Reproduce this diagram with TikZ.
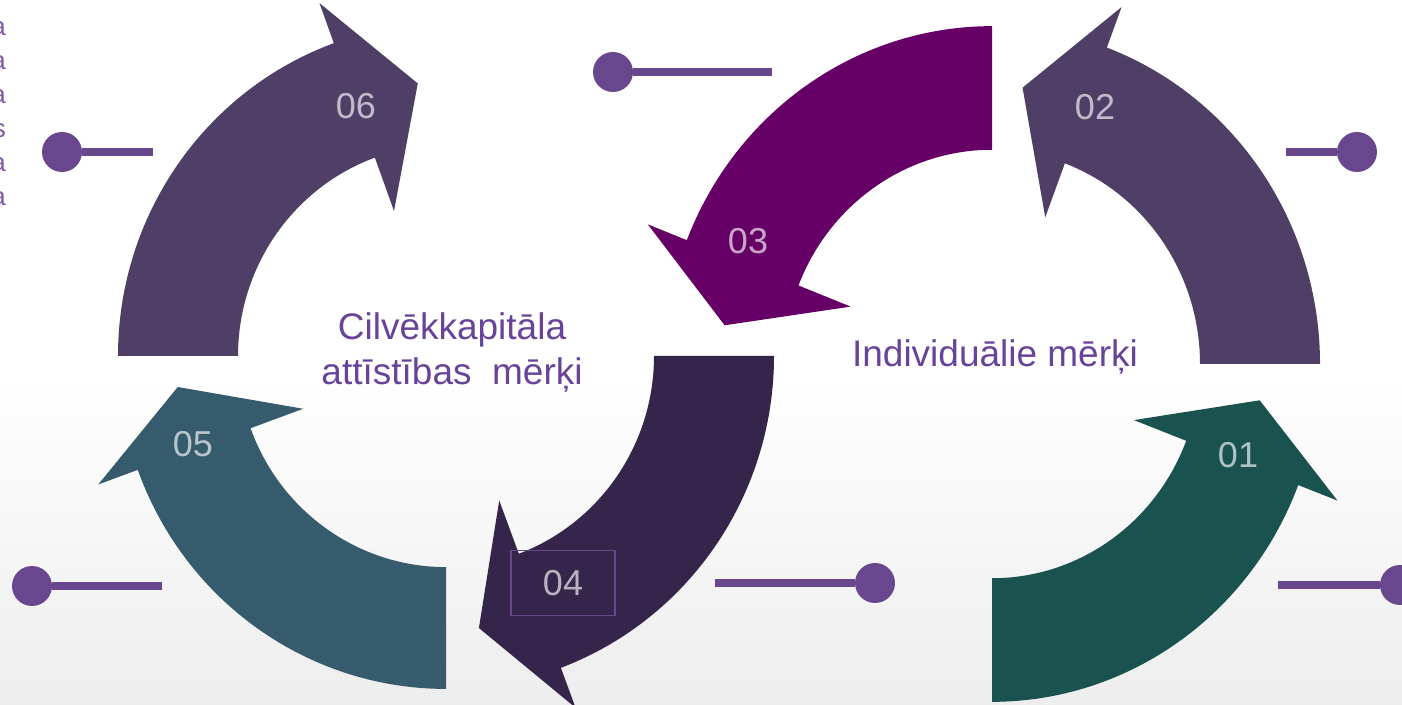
\documentclass[tikz,border=0pt]{standalone}
\usepackage{fontspec}
\setmainfont{Liberation Sans}
\definecolor{tealgreen}{RGB}{25,82,78}
\definecolor{greyplum}{RGB}{79,63,102}
\definecolor{plum}{RGB}{102,0,102}
\definecolor{nightplum}{RGB}{54,37,74}
\definecolor{slateteal}{RGB}{54,91,109}
\definecolor{pinpurple}{RGB}{104,71,143}
\definecolor{textpurple}{RGB}{103,67,154}
\definecolor{edgepurple}{RGB}{125,91,166}

% bent arrow: centre x, centre y, y stretch, start angle, head base angle, tip angle, colour
\newcommand{\cyclearrow}[7]{
  \begin{scope}[shift={(#1,#2)}, yscale=#3]
    \fill[#7] (#4:328) arc[start angle=#4, end angle=#5, radius=328]
      -- (#5:370) -- (#6:270) -- (#5:152) -- (#5:208)
      arc[start angle=#5, end angle=#4, radius=208] -- cycle;
  \end{scope}
}

\begin{document}
\begin{tikzpicture}[x=1pt, y=1pt,
  num/.style={text=white, text opacity=0.65, font=\fontsize{36}{36}\selectfont},
  goal/.style={text=textpurple, font=\fontsize{37}{45}\selectfont, align=center},
  pin/.style={circle, fill=pinpurple, minimum size=40pt, inner sep=0pt},
  stem/.style={draw=pinpurple, line width=8pt}]

\useasboundingbox (0,0) rectangle (1402,704);
\clip (0,0) rectangle (1402,704);

% background
\fill[white] (0,0) rectangle (1402,704);
\fill[top color=white, bottom color=black!7] (0,0) rectangle (1402,330);

% right loop
\cyclearrow{992}{340}{1.03}{-90}{-21}{-7.5}{tealgreen}
\cyclearrow{992}{340}{1.03}{0}{69.5}{83.5}{greyplum}
\cyclearrow{992}{340}{1.03}{90}{158.5}{172}{plum}

% left loop
\cyclearrow{446}{348}{1.015}{0}{-69.5}{-83}{nightplum}
\cyclearrow{446}{348}{1.015}{-90}{-160}{-173.5}{slateteal}
\cyclearrow{446}{348}{1.015}{180}{110}{96}{greyplum}

\node[num] (n01) at (1238,249) {01};
\node[num] (n02) at (1095,597) {02};
\node[num] (n03) at (748,463) {03};
\node[num, draw=pinpurple, line width=1.5pt, minimum width=104pt, minimum height=65pt] (n04) at (563,121) {04};
\node[num] (n05) at (193,260) {05};
\node[num] (n06) at (356,598) {06};

\node[goal] (humancap) at (452,351) {Cilvēkkapitāla\\attīstības~ mērķi};
\node[goal] (personal) at (995,347) {Individuālie mērķi};

% pins
\node[pin] (pinA) at (613,632) {};
\coordinate (stemA) at (772,632);
\draw[stem] (pinA) -- (stemA);

\node[pin] (pinB) at (62,552) {};
\coordinate (stemB) at (153,552);
\draw[stem] (pinB) -- (stemB);

\node[pin] (pinC) at (1357,552) {};
\coordinate (stemC) at (1286,552);
\draw[stem] (pinC) -- (stemC);

\node[pin] (pinD) at (32,118) {};
\coordinate (stemD) at (162,118);
\draw[stem] (pinD) -- (stemD);

\node[pin] (pinE) at (875,121) {};
\coordinate (stemE) at (715,121);
\draw[stem] (pinE) -- (stemE);

\node[pin] (pinF) at (1400,119) {};
\coordinate (stemF) at (1278,119);
\draw[stem] (pinF) -- (stemF);

% cut-off text at the left edge
\node[anchor=north east, align=right, inner sep=0pt, text=edgepurple,
  font=\fontsize{26}{34}\selectfont] (edgetext) at (6,683) {a\\a\\a\\s\\a\\a};

\end{tikzpicture}
\end{document}
